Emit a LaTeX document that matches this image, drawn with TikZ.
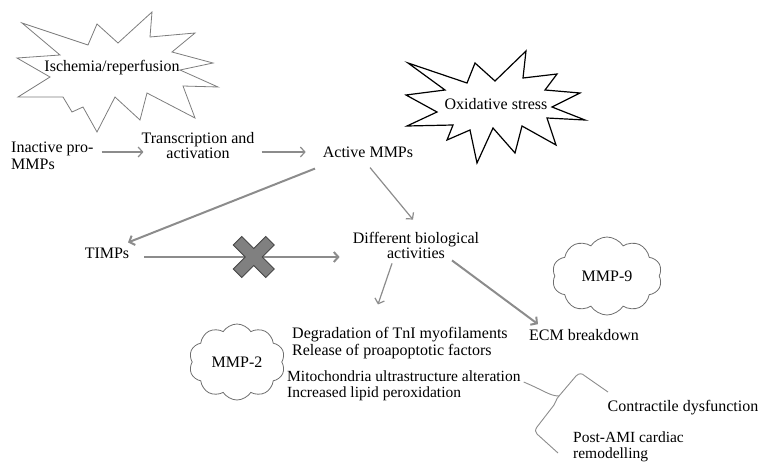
\documentclass[tikz,border=0pt]{standalone}
\usepackage{fontspec}
\setmainfont{Liberation Serif}
\usepackage{tikz}
\usetikzlibrary{arrows.meta,shapes.symbols}
\definecolor{arrgray}{RGB}{140,140,140}
\definecolor{stargray}{RGB}{125,125,125}
\definecolor{cloudgray}{RGB}{110,110,110}
\definecolor{xfill}{RGB}{128,128,128}
\definecolor{xline}{RGB}{70,70,70}

\begin{document}
\begin{tikzpicture}[x=1pt, y=-1pt,
  lbl/.style={font=\fontsize{16}{15}\selectfont, inner sep=0pt, align=center},
  arr/.style={draw=arrgray, line width=1.2pt, -{Straight Barb[length=4.5pt,width=10pt]}},
  thickarr/.style={arr, line width=2pt},
  puff/.style={cloud, draw=cloudgray, line width=0.8pt, cloud puffs=10, cloud puff arc=115, aspect=1.3, lbl},
  brk/.style={draw=arrgray, line width=0.9pt}]
  \useasboundingbox (0,0) rectangle (772,474);
  \draw[stargray, line width=0.8pt] (22,23) -- (88,45) -- (97,24) -- (118,43) -- (152,12) -- (150,37) -- (195,33) -- (172,52) -- (213,63) -- (180,70) -- (218,87) -- (183,86) -- (195,118) -- (147,93) -- (140,120) -- (115,97) -- (97,132) -- (83,107) -- (72,112) -- (63,97) -- (18,97) -- (50,77) -- (17,58) -- (60,55) -- cycle;
  \draw[black, line width=1.2pt] (408,63) -- (467,83) -- (475,63) -- (495,81) -- (526,51) -- (523,78) -- (557,74) -- (545,90) -- (580,93) -- (552,107) -- (585,120) -- (547,118) -- (556,145) -- (522,126) -- (515,153) -- (493,128) -- (477,163) -- (470,130) -- (447,140) -- (453,125) -- (407,126) -- (437,112) -- (406,95) -- (445,90) -- cycle;
  \node[lbl] (isch) at (112,68) {Ischemia/reperfusion};
  \node[lbl] (oxi) at (496,104) {Oxidative stress};
  \node[lbl, anchor=west, align=left, font=\fontsize{16}{17}\selectfont] (ipro) at (11,156) {Inactive pro-\\MMPs};
  \node[lbl] (trans) at (198,145.5) {Transcription and\\activation};
  \node[lbl] (act) at (368,152) {Active MMPs};
  \node[lbl] (timps) at (107,253) {TIMPs};
  \node[lbl] (diff) at (416,245) {Different biological\\activities};
  \node[lbl] (ecm) at (584,335) {ECM breakdown};
  \node[lbl, anchor=west, align=left, font=\fontsize{16}{17}\selectfont] (deg) at (292,343.5) {Degradation of TnI myofilaments\\Release of proapoptotic factors};
  \node[lbl, anchor=west, align=left, font=\fontsize{15.5}{15.5}\selectfont] (mito) at (287,386) {Mitochondria ultrastructure alteration\\Increased lipid peroxidation};
  \node[lbl] (contr) at (683,408) {Contractile dysfunction};
  \node[lbl, anchor=west, align=left, font=\fontsize{15.5}{15.5}\selectfont] (post) at (573,447) {Post-AMI cardiac\\remodelling};
  \node[puff, minimum width=96pt, minimum height=76pt] (mmptwo) at (237,362) {MMP-2};
  \node[puff, minimum width=110pt, minimum height=78pt] (mmpnine) at (607,276) {MMP-9};
  \draw[arr] ([xshift=8pt,yshift=4pt]ipro.east) -- ([xshift=2pt,yshift=-6.5pt]trans.west);
  \draw[arr] ([xshift=7pt,yshift=-6.5pt]trans.east) -- ([xshift=-17pt]act.west);
  \draw[arr] ([xshift=2pt,yshift=-10pt]act.south) -- ([xshift=-3pt,yshift=12pt]diff.north);
  \draw[thickarr] ([xshift=-53pt,yshift=-11pt]act.south) -- ([xshift=21pt,yshift=5pt]timps.north);
  \draw[thickarr] ([xshift=15pt,yshift=-4pt]timps.east) -- ([xshift=-13pt,yshift=-12pt]diff.west) coordinate[pos=0.56] (blk);
  \draw[arr] ([xshift=-24pt,yshift=-5pt]diff.south) -- ([xshift=-22pt,yshift=23pt]deg.north);
  \draw[thickarr] ([xshift=36pt,yshift=-2pt]diff.south) -- ([xshift=-46pt,yshift=5pt]ecm.north);
  \begin{scope}[shift={(blk)}]
    \filldraw[fill=xfill, draw=xline, line width=1pt] (20.5,12) -- (12,20.5) -- (0,8.5) -- (-12,20.5) -- (-20.5,12) -- (-8.5,0) -- (-20.5,-12) -- (-12,-20.5) -- (0,-8.5) -- (12,-20.5) -- (20.5,-12) -- (8.5,0) -- cycle;
  \end{scope}
  \coordinate (fork) at (559,396);
  \draw[brk] ([xshift=3pt,yshift=4pt]mito.east) .. controls (545,391) and (550,396) .. (fork) -- (576,376) .. controls (579,373) and (582,373) .. (585,376) -- (608,392);
  \draw[brk] (fork) .. controls (556,399) and (556,402) .. (554,405) -- (537,427) .. controls (535,430) and (535,432) .. (537,434) -- (558,453);
\end{tikzpicture}
\end{document}
